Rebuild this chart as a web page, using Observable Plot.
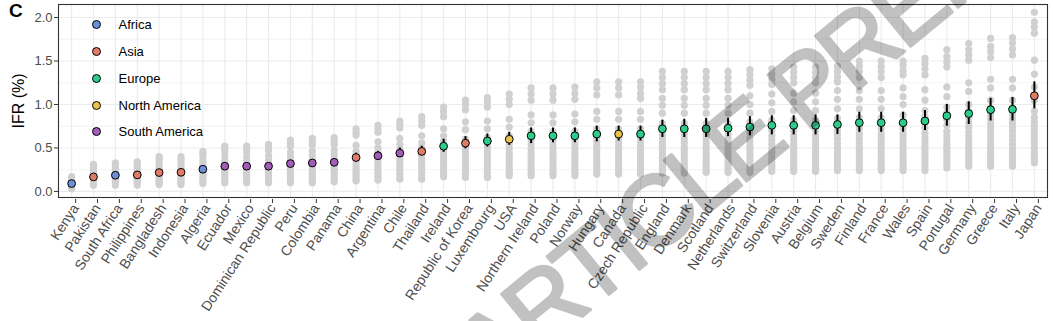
<!DOCTYPE html>
<html><head><meta charset="utf-8">
<script src="https://cdn.jsdelivr.net/npm/d3@7"></script>
<script src="https://cdn.jsdelivr.net/npm/@observablehq/plot@0.6"></script>
<style>
body{margin:0;background:#fff;font-family:"Liberation Sans",Arial,Helvetica,sans-serif;}
#wrap{position:relative;width:1053px;height:321px;overflow:hidden;}
#panel{position:absolute;left:9px;top:0px;font-weight:bold;font-size:19px;color:#000;}
#ylab{position:absolute;left:19px;top:101px;transform:translate(-50%,-50%) rotate(-90deg);font-size:16px;white-space:nowrap;color:#000;}
#legend{position:absolute;left:92px;top:11.6px;font-size:13px;color:#000;}
.row{height:26.7px;display:flex;align-items:center;}
.sw{width:7px;height:7px;border:1px solid #000;border-radius:50%;margin-right:17.5px;}
#wm{position:absolute;left:0;top:0;pointer-events:none;}
</style>
</head><body>
<div id="wrap">
<div id="chart"></div>
<div id="panel">C</div>
<div id="ylab">IFR (%)</div>
<div id="legend"></div>
<svg id="wm" width="1053" height="321"><g opacity="0.24"><text id="wmtext" x="0" y="0" font-family="Liberation Sans, Arial, sans-serif" font-size="100" letter-spacing="-5" fill="#000" stroke="#000" stroke-width="3" stroke-linejoin="round">ARTICLE PREPRINT</text></g></svg>
</div>
<script>
const countries = ["Kenya","Pakistan","South Africa","Philippines","Bangladesh","Indonesia","Algeria","Ecuador","Mexico","Dominican Republic","Peru","Colombia","Panama","China","Argentina","Chile","Thailand","Ireland","Republic of Korea","Luxembourg","USA","Northern Ireland","Poland","Norway","Hungary","Canada","Czech Republic","England","Denmark","Scotland","Netherlands","Switzerland","Slovenia","Austria","Belgium","Sweden","Finland","France","Wales","Spain","Portugal","Germany","Greece","Italy","Japan"];

const regionOf = ["Africa","Asia","Africa","Asia","Asia","Asia","Africa","South America","South America","South America","South America","South America","South America","Asia","South America","South America","Asia","Europe","Asia","Europe","North America","Europe","Europe","Europe","Europe","North America","Europe","Europe","Europe","Europe","Europe","Europe","Europe","Europe","Europe","Europe","Europe","Europe","Europe","Europe","Europe","Europe","Europe","Europe","Asia"];

const ifr = [0.09,0.167,0.186,0.19,0.217,0.22,0.255,0.29,0.29,0.29,0.32,0.327,0.335,0.39,0.41,0.44,0.46,0.52,0.555,0.58,0.60,0.64,0.64,0.64,0.66,0.66,0.66,0.72,0.72,0.72,0.727,0.74,0.76,0.76,0.76,0.77,0.79,0.79,0.79,0.81,0.87,0.895,0.94,0.944,1.10];
const ifrLow = [0.08,0.15,0.165,0.17,0.195,0.195,0.23,0.26,0.26,0.26,0.285,0.29,0.30,0.34,0.36,0.39,0.41,0.45,0.49,0.51,0.53,0.55,0.56,0.56,0.57,0.58,0.58,0.62,0.62,0.62,0.63,0.64,0.65,0.65,0.65,0.655,0.68,0.68,0.68,0.70,0.75,0.77,0.81,0.81,0.95];
const ifrHigh = [0.10,0.185,0.205,0.21,0.24,0.245,0.28,0.32,0.32,0.32,0.355,0.365,0.37,0.44,0.46,0.50,0.52,0.60,0.63,0.66,0.68,0.73,0.73,0.73,0.75,0.75,0.75,0.82,0.83,0.84,0.84,0.86,0.87,0.87,0.88,0.88,0.91,0.91,0.91,0.93,1.00,1.03,1.07,1.08,1.26];

const greyValues = [
[0.17,0.15,0.13,0.11,0.09,0.07,0.05,0.03],
[0.31,0.29,0.27,0.24,0.21,0.19,0.17,0.15,0.13,0.11,0.09,0.07],
[0.33,0.31,0.28,0.25,0.22,0.19,0.17,0.15,0.13,0.11,0.09,0.07],
[0.34,0.32,0.29,0.26,0.23,0.20,0.18,0.16,0.14,0.12,0.10,0.07],
[0.40,0.37,0.34,0.30,0.27,0.24,0.21,0.19,0.16,0.14,0.12,0.10,0.08],
[0.40,0.37,0.34,0.30,0.27,0.24,0.22,0.19,0.17,0.14,0.12,0.10,0.08],
[0.46,0.43,0.40,0.35,0.31,0.28,0.25,0.22,0.19,0.17,0.14,0.12,0.09],
[0.52,0.49,0.46,0.40,0.35,0.31,0.28,0.25,0.22,0.19,0.16,0.13,0.10],
[0.52,0.49,0.46,0.40,0.35,0.31,0.28,0.25,0.22,0.19,0.16,0.13,0.10],
[0.54,0.50,0.47,0.41,0.36,0.32,0.28,0.25,0.22,0.19,0.16,0.13,0.10],
[0.59,0.55,0.52,0.45,0.40,0.35,0.31,0.28,0.25,0.22,0.19,0.16,0.13,0.10],
[0.61,0.57,0.53,0.46,0.41,0.36,0.32,0.28,0.25,0.22,0.19,0.16,0.13,0.10],
[0.62,0.58,0.54,0.47,0.42,0.37,0.33,0.29,0.26,0.23,0.20,0.17,0.14,0.11],
[0.72,0.68,0.65,0.53,0.46,0.42,0.38,0.34,0.30,0.26,0.23,0.20,0.17,0.14,0.12],
[0.76,0.72,0.68,0.57,0.50,0.45,0.41,0.37,0.33,0.29,0.25,0.22,0.19,0.16,0.13],
[0.81,0.77,0.73,0.61,0.54,0.48,0.44,0.40,0.36,0.32,0.28,0.24,0.21,0.17,0.14],
[0.86,0.81,0.76,0.64,0.56,0.50,0.46,0.42,0.38,0.34,0.30,0.26,0.22,0.18,0.14],
[0.97,0.92,0.86,0.72,0.64,0.58,0.53,0.48,0.43,0.39,0.35,0.31,0.27,0.23,0.20,0.17],
[1.05,1.00,0.94,0.80,0.71,0.60,0.55,0.50,0.45,0.40,0.36,0.32,0.28,0.24,0.20,0.16],
[1.08,1.03,0.97,0.81,0.72,0.62,0.57,0.52,0.47,0.42,0.38,0.34,0.30,0.26,0.22,0.18,0.16],
[1.12,1.06,1.00,0.83,0.74,0.64,0.59,0.54,0.49,0.44,0.40,0.36,0.32,0.28,0.24,0.21,0.18],
[1.19,1.12,1.05,0.88,0.79,0.69,0.64,0.59,0.54,0.49,0.44,0.40,0.36,0.32,0.28,0.25,0.21,0.18],
[1.19,1.12,1.05,0.88,0.79,0.69,0.64,0.59,0.54,0.49,0.44,0.40,0.36,0.32,0.28,0.25,0.21,0.18],
[1.20,1.13,1.06,0.89,0.80,0.69,0.64,0.59,0.54,0.49,0.44,0.40,0.36,0.32,0.28,0.25,0.21,0.18],
[1.26,1.19,1.11,0.92,0.83,0.72,0.67,0.62,0.57,0.52,0.47,0.43,0.39,0.35,0.31,0.27,0.23,0.20],
[1.26,1.19,1.11,0.92,0.83,0.72,0.67,0.62,0.57,0.52,0.47,0.43,0.39,0.35,0.31,0.27,0.23,0.20],
[1.26,1.20,1.13,1.07,0.92,0.83,0.72,0.67,0.62,0.57,0.52,0.47,0.43,0.39,0.35,0.31,0.27,0.23,0.20],
[1.38,1.31,1.24,1.17,1.07,0.99,0.90,0.78,0.72,0.66,0.61,0.56,0.51,0.47,0.43,0.39,0.35,0.31,0.27,0.24,0.21],
[1.38,1.31,1.24,1.17,1.07,0.99,0.90,0.78,0.72,0.66,0.61,0.56,0.51,0.47,0.43,0.39,0.35,0.31,0.27,0.24,0.21],
[1.38,1.31,1.24,1.17,1.07,0.99,0.90,0.78,0.72,0.66,0.61,0.56,0.51,0.47,0.43,0.39,0.35,0.31,0.28,0.25,0.22],
[1.38,1.31,1.24,1.17,1.07,0.99,0.90,0.78,0.72,0.66,0.61,0.56,0.51,0.47,0.43,0.39,0.35,0.31,0.28,0.25,0.22],
[1.40,1.34,1.28,1.22,1.10,1.00,0.90,0.80,0.74,0.68,0.62,0.57,0.52,0.48,0.44,0.40,0.36,0.32,0.28,0.25,0.22],
[1.41,1.35,1.29,1.23,1.12,1.02,0.92,0.82,0.76,0.70,0.64,0.59,0.54,0.49,0.45,0.41,0.37,0.33,0.29,0.26,0.23],
[1.43,1.37,1.31,1.25,1.13,1.03,0.93,0.82,0.76,0.70,0.64,0.59,0.54,0.49,0.45,0.41,0.37,0.33,0.29,0.26,0.23],
[1.43,1.37,1.31,1.25,1.13,1.03,0.93,0.82,0.76,0.70,0.64,0.59,0.54,0.49,0.45,0.41,0.37,0.33,0.29,0.26,0.23],
[1.44,1.38,1.32,1.26,1.16,1.06,0.95,0.84,0.77,0.71,0.655,0.60,0.55,0.50,0.46,0.42,0.38,0.34,0.30,0.27,0.24],
[1.50,1.44,1.38,1.31,1.16,1.06,0.95,0.85,0.79,0.72,0.66,0.61,0.56,0.51,0.47,0.43,0.39,0.35,0.31,0.27,0.24],
[1.50,1.44,1.38,1.31,1.16,1.06,0.95,0.85,0.79,0.72,0.66,0.61,0.56,0.51,0.47,0.43,0.39,0.35,0.31,0.27,0.24],
[1.50,1.45,1.39,1.34,1.19,1.09,1.00,0.88,0.80,0.72,0.66,0.61,0.56,0.51,0.47,0.43,0.39,0.35,0.31,0.27,0.24],
[1.53,1.47,1.41,1.34,1.17,1.05,0.93,0.86,0.79,0.73,0.67,0.62,0.57,0.52,0.48,0.44,0.40,0.36,0.32,0.28,0.24],
[1.63,1.55,1.49,1.43,1.20,1.09,0.97,0.90,0.83,0.76,0.69,0.64,0.59,0.54,0.50,0.46,0.42,0.38,0.34,0.30,0.27],
[1.70,1.63,1.57,1.51,1.25,1.15,1.00,0.92,0.85,0.79,0.74,0.68,0.63,0.58,0.53,0.49,0.45,0.41,0.37,0.33,0.29],
[1.76,1.67,1.61,1.54,1.29,1.19,1.05,0.96,0.88,0.83,0.78,0.73,0.68,0.63,0.58,0.53,0.49,0.45,0.41,0.37,0.33,0.29],
[1.77,1.71,1.64,1.57,1.29,1.19,1.05,0.96,0.88,0.83,0.79,0.74,0.69,0.64,0.59,0.54,0.49,0.45,0.41,0.37,0.33,0.29],
[2.06,1.95,1.89,1.82,1.51,1.35,1.20,1.05,0.92,0.85,0.80,0.75,0.70,0.65,0.60,0.55,0.50,0.45,0.40,0.36,0.33]
];

const regions = ["Africa","Asia","Europe","North America","South America"];
const regionColors = ["#6b8fd8","#e07b68","#2ecc8a","#e8c14f","#a15db8"];
const yTicks = [0, 0.5, 1, 1.5, 2];
const yMinor = [0.25, 0.75, 1.25, 1.75];

const main = countries.map((c, i) => ({country: c, region: regionOf[i], ifr: ifr[i], lo: ifrLow[i], hi: ifrHigh[i]}));
const grey = countries.flatMap((c, i) => greyValues[i].map(v => ({country: c, v})));

const font = '"Liberation Sans",Arial,Helvetica,sans-serif';
const chart = Plot.plot({
  width: 1053, height: 321,
  marginTop: 4, marginBottom: 124, marginLeft: 58, marginRight: 6,
  style: {fontFamily: font, fontSize: "12.5px", background: "white", overflow: "visible"},
  x: {type: "point", domain: countries, padding: 0.6},
  y: {domain: [-0.07, 2.15]},
  color: {domain: regions, range: regionColors},
  marks: [
    Plot.ruleY(yMinor, {stroke: "#ebebeb", strokeWidth: 0.6}),
    Plot.gridY(yTicks, {stroke: "#ebebeb", strokeOpacity: 1, strokeWidth: 1.1}),
    Plot.gridX({stroke: "#ebebeb", strokeOpacity: 1, strokeWidth: 1.1}),
    Plot.dot(grey, {x: "country", y: "v", r: 3.6, fill: "#d0d0d0"}),
    Plot.ruleX(main, {x: "country", y1: "lo", y2: "hi", stroke: "#000", strokeWidth: 2}),
    Plot.dot(main, {x: "country", y: "ifr", r: 3.9, fill: "region", stroke: "#000", strokeWidth: 1}),
    Plot.frame({stroke: "#333", strokeWidth: 1.1}),
    Plot.axisY(yTicks, {tickFormat: d3.format(".1f"), tickSize: 4, tickPadding: 2, fontSize: 13, label: null, stroke: "#333", fill: "#4d4d4d"}),
    Plot.axisX({tickRotate: -57, tickSize: 4, tickPadding: 2, fontSize: 14, dx: 4, dy: 2, label: null, stroke: "#333", fill: "#4d4d4d"})
  ]
});
document.getElementById("chart").appendChild(chart);

const legend = document.getElementById("legend");
regions.forEach((r, i) => {
  const row = document.createElement("div");
  row.className = "row";
  const sw = document.createElement("span");
  sw.className = "sw";
  sw.style.background = regionColors[i];
  const t = document.createElement("span");
  t.textContent = r;
  row.appendChild(sw); row.appendChild(t);
  legend.appendChild(row);
});

// watermark placement: the centre of the "C" and of the second "R" go where they sit in the reference
(function placeWatermark() {
  const t = document.getElementById("wmtext");
  const a = t.getExtentOfChar(4), b = t.getExtentOfChar(9);
  const ca = [a.x + a.width / 2, a.y + a.height * 0.55];
  const cb = [b.x + b.width / 2, b.y + b.height * 0.55];
  const ta = [657, 217], tb = [860, 50];
  const vx = cb[0] - ca[0], vy = cb[1] - ca[1];
  const wx = tb[0] - ta[0], wy = tb[1] - ta[1];
  const s = Math.hypot(wx, wy) / Math.hypot(vx, vy);
  const ang = (Math.atan2(wy, wx) - Math.atan2(vy, vx)) * 180 / Math.PI;
  t.setAttribute("transform", `translate(${ta[0]},${ta[1]}) rotate(${ang}) scale(${s}) translate(${-ca[0]},${-ca[1]})`);
})();
</script>
</body></html>
